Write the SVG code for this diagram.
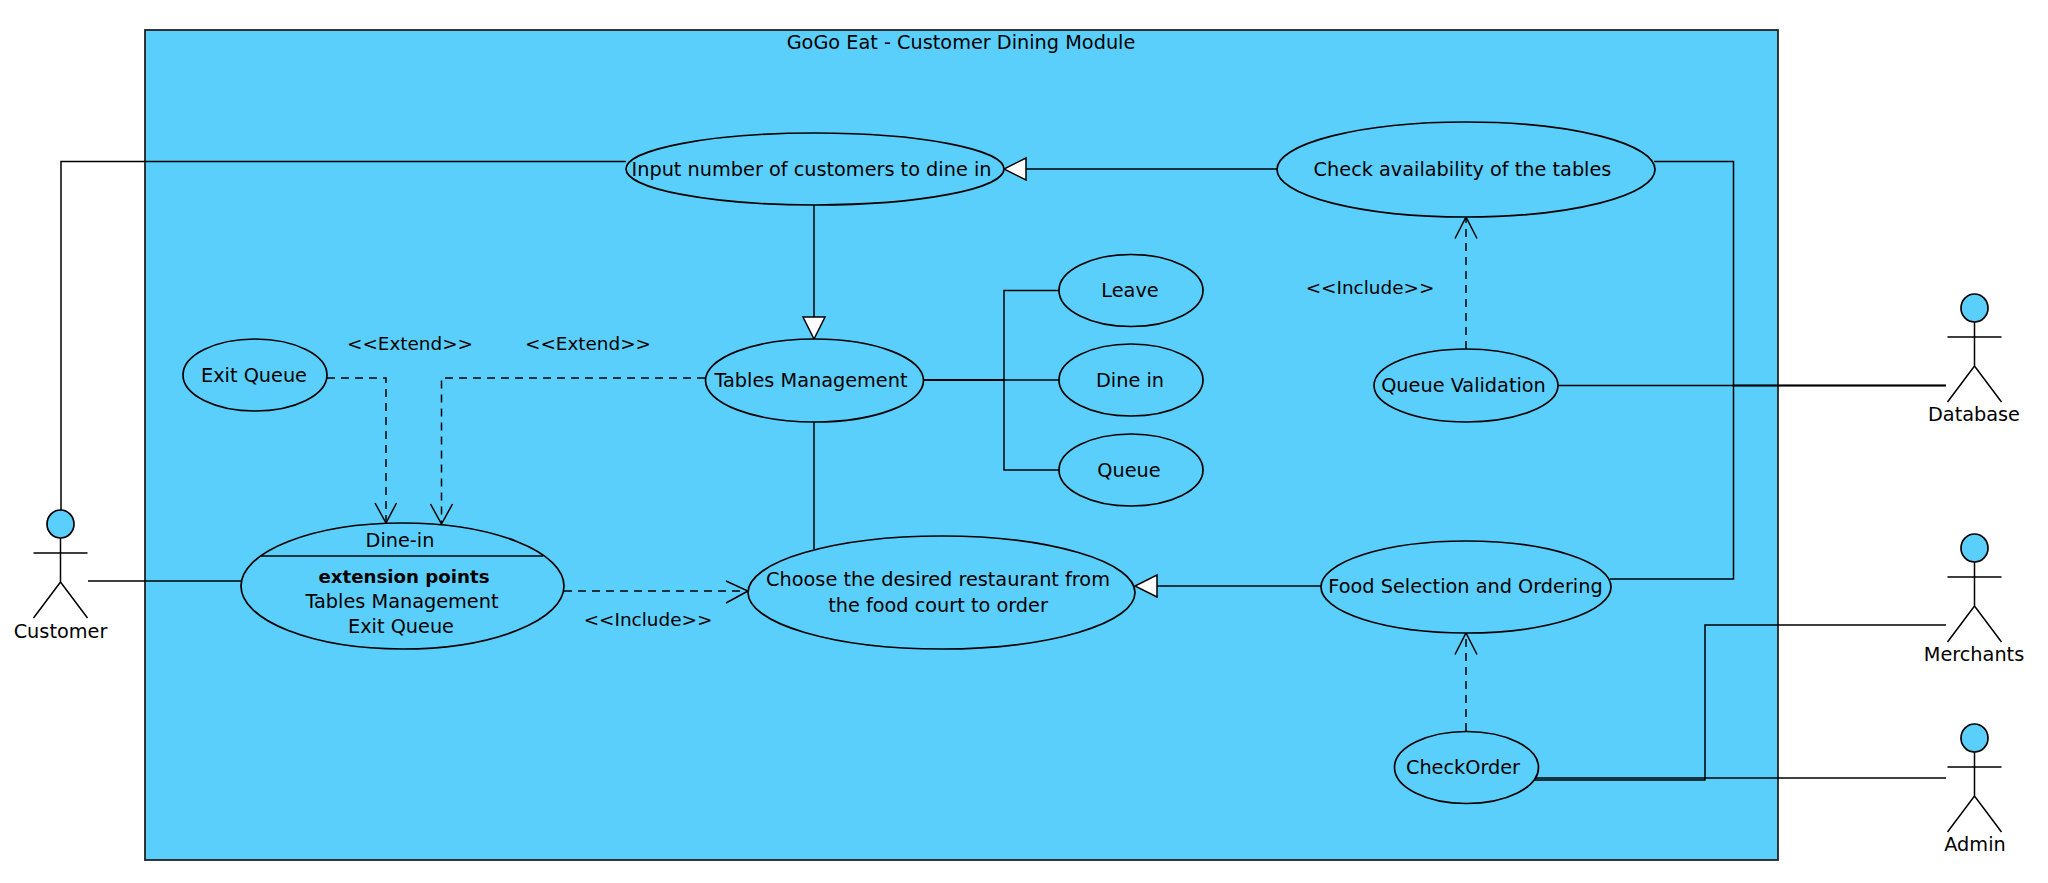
<svg xmlns="http://www.w3.org/2000/svg" width="2048" height="883" viewBox="0 0 2048 883">
<style>
text{font-family:"DejaVu Sans","Liberation Sans",sans-serif;font-size:19.300px;fill:#000;text-anchor:middle}
.b{font-weight:bold;font-size:18.200px}
.s{font-size:18.400px}
.n{fill:#5ACFFC;stroke:#000;stroke-width:1.700}
.l{fill:none;stroke:#000;stroke-width:1.500}
.d{fill:none;stroke:#000;stroke-width:1.500;stroke-dasharray:8 6}
.o{fill:none;stroke:#000;stroke-width:1.500}
.t{fill:#fff;stroke:#000;stroke-width:1.500}
</style>
<defs>
<g id="stick"><ellipse class="n" cx="0" cy="14" rx="13.500" ry="14"/><path class="l" d="M-27 43H27M0 28V72M-27 108L0 72L27 108"/></g>
</defs>
<rect id="boundary" x="145" y="30" width="1633" height="830" fill="#5ACFFC" stroke="#222" stroke-width="1.800"/>
<text x="961" y="49">GoGo Eat - Customer Dining Module</text>
<g id="connectors">
<path class="l" d="M626 161.500H61V510"/>
<path class="l" d="M88 581H241"/>
<path class="l" d="M814 205V318"/><path class="t" d="M803 317H825L814 339Z"/>
<path class="l" d="M1277 169H1026"/><path class="t" d="M1026 158V180L1004 169Z"/>
<path class="l" d="M814 422V549"/>
<path class="l" d="M924 380H1004V290.500H1059"/><path class="l" d="M924 380H1059"/><path class="l" d="M924 380H1004V470H1059"/>
<path class="d" d="M327 378H386V523"/><path class="o" d="M375 503L386 523L396.500 503"/>
<path class="d" d="M705 378H441.500V524"/><path class="o" d="M430.500 504L441.500 524L452.500 504"/>
<path class="d" d="M564 591H748"/><path class="o" d="M726 581L748 591L726 603"/>
<path class="d" d="M1466 349V217"/><path class="o" d="M1455 238.500L1466 217L1477 238.500"/>
<path class="d" d="M1466 731V633"/><path class="o" d="M1455 654.500L1466 633L1477 654.500"/>
<path class="l" d="M1320.500 586H1157"/><path class="t" d="M1157 575V597L1135 586Z"/>
<path class="l" d="M1654 161.500H1733.500V385.500H1946"/>
<path class="l" d="M1610 579H1733.500V385.500H1946"/>
<path class="l" d="M1558 385.500H1946"/>
<path class="l" d="M1534 780H1705V625H1946"/>
<path class="l" d="M1534 778H1946"/>
</g>
<g id="input"><ellipse class="n" cx="815" cy="169" rx="189" ry="36"/><text x="811.500" y="176">Input number of customers to dine in</text></g>
<g id="tables"><ellipse class="n" cx="814.500" cy="380.500" rx="109" ry="41.500"/><text x="811" y="387">Tables Management</text></g>
<g id="exit"><ellipse class="n" cx="255" cy="375" rx="72" ry="36"/><text x="254" y="382">Exit Queue</text></g>
<g id="check"><ellipse class="n" cx="1466" cy="169.500" rx="189" ry="47.500"/><text x="1462.500" y="176">Check availability of the tables</text></g>
<g id="leave"><ellipse class="n" cx="1131" cy="290.500" rx="72" ry="36"/><text x="1130" y="297">Leave</text></g>
<g id="dinein2"><ellipse class="n" cx="1131" cy="380" rx="72" ry="36"/><text x="1130" y="387">Dine in</text></g>
<g id="queue"><ellipse class="n" cx="1131" cy="470" rx="72" ry="36"/><text x="1129" y="477">Queue</text></g>
<g id="validation"><ellipse class="n" cx="1466" cy="385.500" rx="92" ry="36.500"/><text x="1463.500" y="392">Queue Validation</text></g>
<g id="food"><ellipse class="n" cx="1466" cy="587" rx="145" ry="46"/><text x="1465.500" y="593">Food Selection and Ordering</text></g>
<g id="checkorder"><ellipse class="n" cx="1466.500" cy="767.500" rx="72" ry="36"/><text x="1463" y="774">CheckOrder</text></g>
<g id="dinein"><ellipse class="n" cx="402.500" cy="586" rx="161.500" ry="63"/><path class="l" d="M261 556H543"/>
<text x="400" y="547">Dine-in</text><text class="b" x="404" y="583">extension points</text><text x="402" y="608">Tables Management</text><text x="401" y="633">Exit Queue</text></g>
<g id="choose"><ellipse class="n" cx="941.500" cy="592.500" rx="193.500" ry="56.500"/><text x="938" y="586">Choose the desired restaurant from</text><text x="938" y="612">the food court to order</text></g>
<g id="customer"><use href="#stick" x="60.500" y="510"/><text x="60.500" y="638">Customer</text></g>
<g id="database"><use href="#stick" x="1974.500" y="294"/><text x="1974" y="421">Database</text></g>
<g id="merchants"><use href="#stick" x="1974.500" y="534"/><text x="1974" y="661">Merchants</text></g>
<g id="admin"><use href="#stick" x="1974.500" y="724"/><text x="1975" y="851">Admin</text></g>
<text class="s" x="410" y="350">&lt;&lt;Extend&gt;&gt;</text>
<text class="s" x="588" y="350">&lt;&lt;Extend&gt;&gt;</text>
<text class="s" x="1370" y="294">&lt;&lt;Include&gt;&gt;</text>
<text class="s" x="648" y="626">&lt;&lt;Include&gt;&gt;</text>
</svg>
